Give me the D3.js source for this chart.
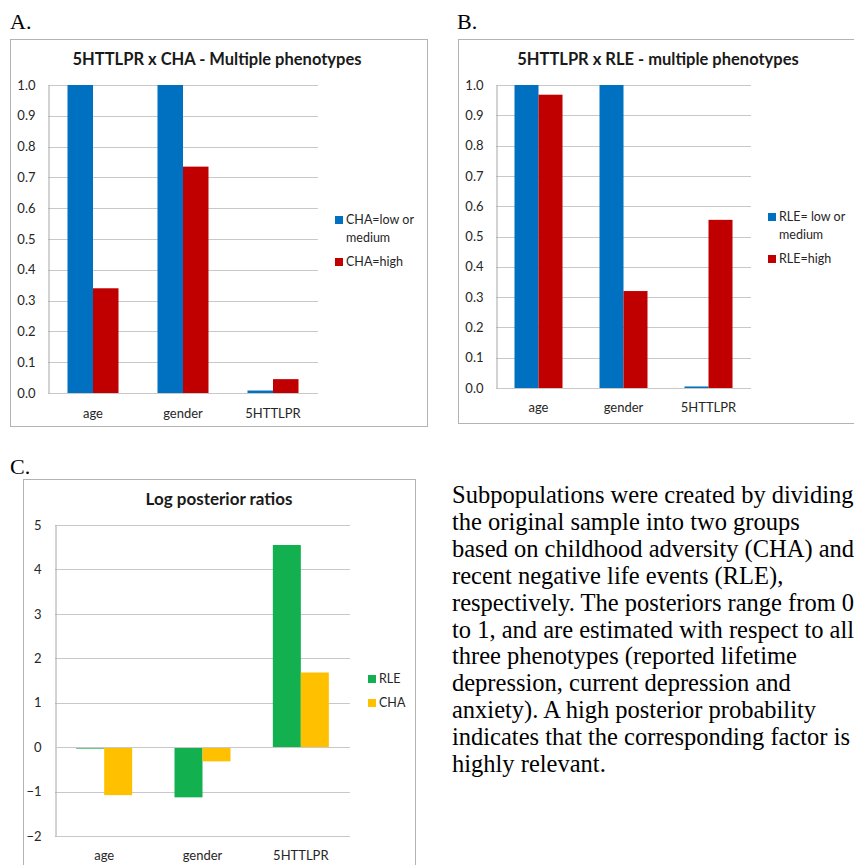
<!DOCTYPE html>
<html>
<head>
<meta charset="utf-8">
<script src="https://cdn.jsdelivr.net/npm/d3@7"></script>
<style>
  html, body { margin: 0; padding: 0; background: #fff; }
  svg { display: block; }
</style>
</head>
<body>
<div id="chart"></div>
<script>
(function() {
  'use strict';

  // shared categories
  const categories = ['age', 'gender', '5HTTLPR'];

  // panel A
  const chaLowValues = [1.0, 1.0, 0.008];
  const chaHighValues = [0.34, 0.735, 0.045];
  const probTicks = [0, 0.1, 0.2, 0.3, 0.4, 0.5, 0.6, 0.7, 0.8, 0.9, 1.0];

  // panel B
  const rleLowValues = [1.0, 1.0, 0.005];
  const rleHighValues = [0.968, 0.32, 0.555];

  // panel C
  const rleRatioValues = [-0.03, -1.13, 4.55];
  const chaRatioValues = [-1.08, -0.32, 1.68];
  const ratioTicks = [-2, -1, 0, 1, 2, 3, 4, 5];

  const paragraphLines = [
    'Subpopulations were created by dividing',
    'the original sample into two groups',
    'based on childhood adversity (CHA) and',
    'recent negative life events (RLE),',
    'respectively. The posteriors range from 0',
    'to 1, and are estimated with respect to all',
    'three phenotypes (reported lifetime',
    'depression, current depression and',
    'anxiety). A high posterior probability',
    'indicates that the corresponding factor is',
    'highly relevant.'
  ];

  const colors = {
    blue: '#0070c0',
    red: '#c00000',
    green: '#12b04e',
    orange: '#ffc000'
  };

  const sansFont = 'Lato, "Open Sans", sans-serif';
  const serifFont = '"Liberation Serif", "Times New Roman", serif';

  const svg = d3.select('#chart')
    .append('svg')
    .attr('width', 854)
    .attr('height', 865);

  function drawPanel(cfg) {
    const g = svg.append('g');

    // panel letter
    g.append('text')
      .attr('x', cfg.letterX)
      .attr('y', cfg.letterY)
      .attr('font-family', serifFont)
      .attr('font-size', 22)
      .attr('fill', '#000')
      .text(cfg.letter);

    // frame
    g.append('rect')
      .attr('x', cfg.box[0] + 0.5)
      .attr('y', cfg.box[1] + 0.5)
      .attr('width', cfg.box[2])
      .attr('height', cfg.box[3])
      .attr('fill', '#fff')
      .attr('stroke', '#b3b3b3')
      .attr('stroke-width', 1);

    g.append('text')
      .attr('x', cfg.titleX)
      .attr('y', cfg.titleY)
      .attr('text-anchor', 'middle')
      .attr('font-family', sansFont)
      .attr('font-weight', 'bold')
      .attr('font-size', cfg.titleSize)
      .attr('fill', '#1a1a1a')
      .text(cfg.title);

    const x = d3.scaleBand()
      .domain(categories)
      .range([cfg.plot.left, cfg.plot.right])
      .paddingInner(0);

    const y = d3.scaleLinear()
      .domain(cfg.yDomain)
      .range([cfg.plot.bottom, cfg.plot.top]);

    // gridlines
    g.append('g')
      .selectAll('line')
      .data(cfg.ticks)
      .join('line')
      .attr('x1', cfg.plot.left)
      .attr('x2', cfg.plot.right)
      .attr('y1', d => Math.round(y(d)) + 0.5)
      .attr('y2', d => Math.round(y(d)) + 0.5)
      .attr('stroke', '#c8c8c8')
      .attr('stroke-width', 1);

    // y axis
    const yAxis = d3.axisLeft(y)
      .tickValues(cfg.ticks)
      .tickFormat(cfg.tickFormat)
      .tickSize(0)
      .tickPadding(cfg.tickPad);

    const yAxisG = g.append('g')
      .attr('transform', `translate(${cfg.plot.left + 0.5},0)`)
      .call(yAxis);
    yAxisG.select('.domain').attr('stroke', '#a6a6a6');
    yAxisG.selectAll('text')
      .attr('font-family', sansFont)
      .attr('font-size', 13)
      .attr('fill', '#262626');

    // bars
    const barW = cfg.barWidth;
    cfg.series.forEach((s, si) => {
      g.append('g')
        .selectAll('rect')
        .data(s.values.map((v, i) => ({ cat: categories[i], v: v })))
        .join('rect')
        .attr('x', d => x(d.cat) + x.bandwidth() / 2 - barW + si * barW)
        .attr('width', barW)
        .attr('y', d => y(Math.max(0, d.v)))
        .attr('height', d => Math.max(1.5, Math.abs(y(d.v) - y(0))))
        .attr('fill', s.color);
    });

    // zero line redrawn for panels with negative values
    if (cfg.yDomain[0] < 0) {
      g.append('line')
        .attr('x1', cfg.plot.left)
        .attr('x2', cfg.plot.right)
        .attr('y1', Math.round(y(0)) + 0.5)
        .attr('y2', Math.round(y(0)) + 0.5)
        .attr('stroke', '#c8c8c8');
    }

    // x labels
    g.append('g')
      .selectAll('text')
      .data(categories)
      .join('text')
      .attr('x', d => x(d) + x.bandwidth() / 2)
      .attr('y', cfg.xLabelY)
      .attr('text-anchor', 'middle')
      .attr('font-family', sansFont)
      .attr('font-size', 13)
      .attr('fill', '#262626')
      .text(d => d);

    // legend
    const legend = g.append('g')
      .attr('transform', `translate(${cfg.legendX},${cfg.legendY})`);
    let offset = 0;
    cfg.series.forEach(s => {
      const item = legend.append('g').attr('transform', `translate(0,${offset})`);
      item.append('rect')
        .attr('x', 0)
        .attr('y', -8)
        .attr('width', 8)
        .attr('height', 8)
        .attr('fill', s.color);
      s.label.forEach((line, li) => {
        item.append('text')
          .attr('x', 11)
          .attr('y', li * 18)
          .attr('font-family', sansFont)
          .attr('font-size', 12.5)
          .attr('fill', '#262626')
          .text(line);
      });
      offset += s.label.length * 18 + 6;
    });
  }

  drawPanel({
    letter: 'A.', letterX: 10, letterY: 29,
    box: [10, 39, 417, 387],
    title: '5HTTLPR x CHA - Multiple phenotypes', titleX: 217, titleY: 65, titleSize: 16.5,
    plot: { left: 48, right: 318, top: 85, bottom: 393 },
    yDomain: [0, 1], ticks: probTicks, tickFormat: d3.format('.1f'), tickPad: 13,
    barWidth: 25.5, xLabelY: 418,
    legendX: 335, legendY: 224,
    series: [
      { values: chaLowValues, color: colors.blue, label: ['CHA=low or', 'medium'] },
      { values: chaHighValues, color: colors.red, label: ['CHA=high'] }
    ]
  });

  drawPanel({
    letter: 'B.', letterX: 457, letterY: 29,
    box: [458, 39, 400, 384],
    title: '5HTTLPR x RLE - multiple phenotypes', titleX: 658, titleY: 65, titleSize: 16.5,
    plot: { left: 496, right: 751, top: 85, bottom: 388 },
    yDomain: [0, 1], ticks: probTicks, tickFormat: d3.format('.1f'), tickPad: 13,
    barWidth: 24, xLabelY: 412,
    legendX: 768, legendY: 221,
    series: [
      { values: rleLowValues, color: colors.blue, label: ['RLE= low or', 'medium'] },
      { values: rleHighValues, color: colors.red, label: ['RLE=high'] }
    ]
  });

  drawPanel({
    letter: 'C.', letterX: 10, letterY: 474,
    box: [23, 479, 392, 400],
    title: 'Log posterior ratios', titleX: 219, titleY: 505, titleSize: 17,
    plot: { left: 55, right: 350, top: 525, bottom: 836 },
    yDomain: [-2, 5], ticks: ratioTicks, tickFormat: d3.format('d'), tickPad: 14,
    barWidth: 28, xLabelY: 860,
    legendX: 368, legendY: 683,
    series: [
      { values: rleRatioValues, color: colors.green, label: ['RLE'] },
      { values: chaRatioValues, color: colors.orange, label: ['CHA'] }
    ]
  });

  // caption text
  svg.append('g')
    .selectAll('text')
    .data(paragraphLines)
    .join('text')
    .attr('x', 452)
    .attr('y', (d, i) => 503 + i * 26.9)
    .attr('font-family', serifFont)
    .attr('font-size', 24.5)
    .attr('fill', '#000')
    .text(d => d);
})();
</script>
</body>
</html>
